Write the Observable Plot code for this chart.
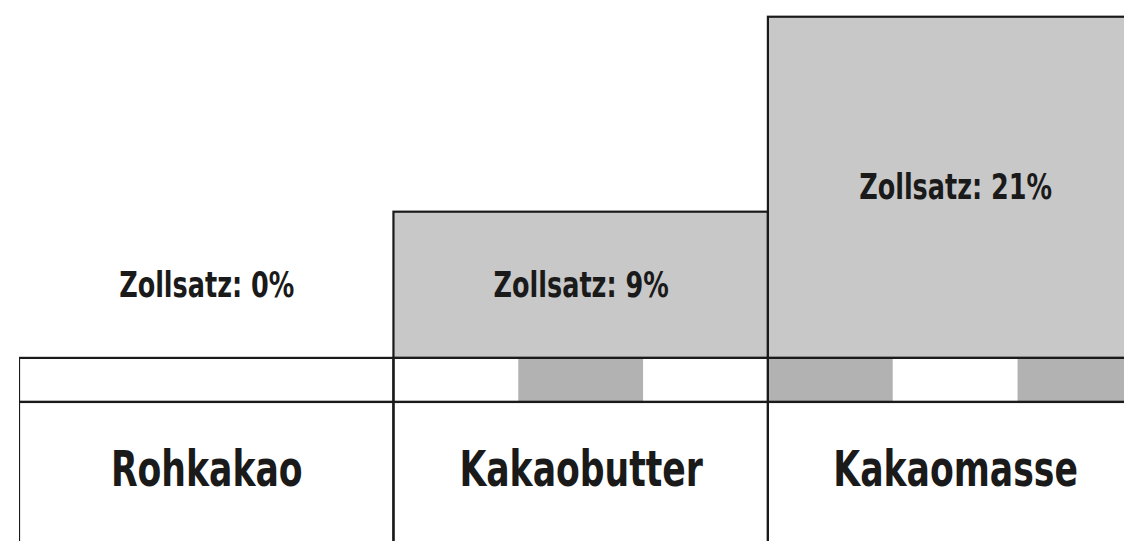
<!DOCTYPE html>
<html>
<head>
<meta charset="utf-8">
<script src="https://cdn.jsdelivr.net/npm/d3@7"></script>
<script src="https://cdn.jsdelivr.net/npm/@observablehq/plot@0.6"></script>
<style>
  html, body { margin: 0; padding: 0; background: #fff; overflow: hidden; }
</style>
</head>
<body>
<div id="chart"></div>
<script>
// ---- data ----
const categories = ["Rohkakao", "Kakaobutter", "Kakaomasse"];
const rates = [0, 9, 21];
const rateLabels = ["Zollsatz: 0%", "Zollsatz: 9%", "Zollsatz: 21%"];
// grey thirds in the strip under each column (1 = grey)
const stripPattern = [[0, 0, 0], [0, 1, 0], [1, 0, 1]];

// ---- derived tables ----
const STRIP = -2.71;   // strip bottom in y units
const BOTTOM = -12;    // below the visible area
const cols = categories.map((c, i) => ({cat: c, i, rate: rates[i], label: rateLabels[i]}));
const patches = [];
stripPattern.forEach((p, i) => p.forEach((v, j) => {
  if (v) patches.push({x1: i + j / 3, x2: i + (j + 1) / 3});
}));

const font = "'DejaVu Sans Condensed', 'Liberation Sans Narrow', sans-serif";
const ink = "#1a1a1a";

const chart = Plot.plot({
  width: 1124,
  height: 541,
  marginLeft: 19,
  marginRight: 0,
  marginTop: 0,
  marginBottom: 0,
  x: {type: "linear", domain: [0, 2.951], axis: null},
  y: {type: "linear", domain: [-11.27, 22.03], axis: null},
  marks: [
    // bars
    Plot.rect(cols.filter(d => d.rate > 0), {
      x1: d => d.i, x2: d => d.i + 1, y1: 0, y2: d => d.rate,
      fill: "#c8c8c8", stroke: ink, strokeWidth: 2.2, clip: true
    }),
    // strip cells
    Plot.rect(cols, {
      x1: d => d.i, x2: d => d.i + 1, y1: STRIP, y2: 0,
      fill: "white", clip: true
    }),
    Plot.rect(patches, {
      x1: "x1", x2: "x2", y1: STRIP, y2: 0,
      fill: "#b2b2b2", clip: true
    }),
    Plot.rect(cols, {
      x1: d => d.i, x2: d => d.i + 1, y1: STRIP, y2: 0,
      fill: "none", stroke: ink, strokeWidth: 2.2, clip: true
    }),
    // bottom label cells
    Plot.rect(cols, {
      x1: d => d.i, x2: d => d.i + 1, y1: BOTTOM, y2: STRIP,
      fill: "none", stroke: ink, strokeWidth: 2.2, clip: true
    }),
    // rate labels
    Plot.text(cols, {
      x: d => d.i + 0.5, y: d => Math.max(d.rate, 9) / 2, text: "label",
      fontSize: 35, fontWeight: "bold", fontFamily: font, fill: ink,
      textAnchor: "middle", lineAnchor: "middle", className: "rate-label"
    }),
    // category labels
    Plot.text(cols, {
      x: d => d.i + 0.5, y: -6.85, text: "cat",
      fontSize: 50, fontWeight: "bold", fontFamily: font, fill: ink,
      textAnchor: "middle", lineAnchor: "middle", className: "cat-label"
    })
  ]
});
document.getElementById("chart").appendChild(chart);

// squeeze the glyphs horizontally (around each text's anchor) to mimic the narrow typeface
function squeeze(sel, k) {
  d3.select(chart).selectAll(sel).each(function () {
    const t = this.getAttribute("transform");
    if (t) {
      this.setAttribute("transform", t + ` scale(${k},1)`);
    } else {
      const x = +this.getAttribute("x") || 0, y = +this.getAttribute("y") || 0;
      this.removeAttribute("x");
      this.removeAttribute("y");
      this.setAttribute("transform", `translate(${x},${y}) scale(${k},1)`);
    }
  });
}
squeeze(".rate-label text", 0.81);
squeeze(".cat-label text", 0.77);
</script>
</body>
</html>
